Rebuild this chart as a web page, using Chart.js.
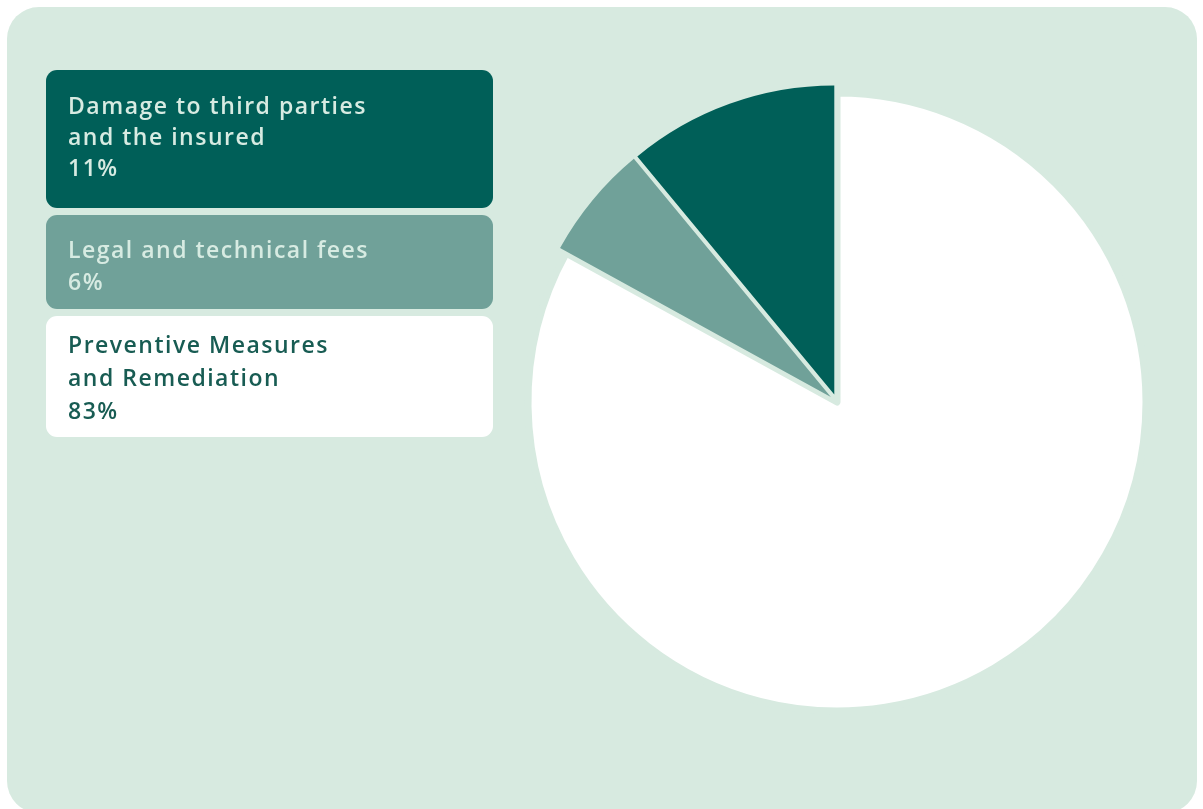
<!DOCTYPE html>
<html>
<head>
<meta charset="utf-8">
<script src="https://cdn.jsdelivr.net/npm/chart.js@4"></script>
<style>
  html, body { margin: 0; padding: 0; background: #ffffff; }
  body { width: 1203px; height: 809px; position: relative; overflow: hidden; font-family: "Open Sans", sans-serif; }
  .panel {
    position: absolute; left: 7px; top: 7px; width: 1190px; height: 806px;
    background: #d7eae0; border-radius: 32px;
  }
  .pie-wrap { position: absolute; left: 487px; top: 52px; width: 700px; height: 700px; }
  .legend { position: absolute; left: 46px; top: 70px; width: 447px; z-index: 2; }
  .item {
    box-sizing: border-box; border-radius: 11px; padding: 0 22px;
    font-size: 23px; font-weight: 600; letter-spacing: 1.5px; margin-bottom: 7px;
  }
</style>
</head>
<body>
<div class="panel"></div>
<div class="legend" id="legend"></div>
<div class="pie-wrap"><canvas id="pie"></canvas></div>

<script>
// slices, clockwise from twelve o'clock
const labels = ['Preventive Measures\nand Remediation', 'Legal and technical fees', 'Damage to third parties\nand the insured'];
const shares = [83, 6, 11];
const fills = ['#ffffff', '#70a199', '#005f58'];
const textColors = ['#185c53', '#d7ebe2', '#d7ebe2'];

// legend boxes are listed in the reverse order
const legendOrder = [2, 1, 0];
const boxHeights = [138, 94, 121];
const boxPadTop = [20, 18, 12];
const boxLineHeight = [31, 32, 33];
const panelColor = '#d7eae0';
// small pieces are pulled out from the centre
const sliceShift = [0, 8, 8];

(function() {
    'use strict';

    const legend = document.getElementById('legend');
    legend.innerHTML = legendOrder.map((i, k) => {
        const lines = labels[i].split('\n').concat(shares[i] + '%');
        const style = `background:${fills[i]};color:${textColors[i]};height:${boxHeights[k]}px;` +
            `padding-top:${boxPadTop[k]}px;line-height:${boxLineHeight[k]}px`;
        return `<div class="item" style="${style}">${lines.join('<br>')}</div>`;
    }).join('');

    const shiftSlices = {
        id: 'shiftSlices',
        afterDatasetUpdate(chart, args) {
            chart.getDatasetMeta(args.index).data.forEach((arc, i) => {
                const d = sliceShift[i] || 0;
                const mid = (arc.startAngle + arc.endAngle) / 2;
                arc.x += Math.cos(mid) * d;
                arc.y += Math.sin(mid) * d;
            });
        }
    };

    new Chart(document.getElementById('pie'), {
        type: 'pie',
        data: {
            labels: labels,
            datasets: [{
                data: shares,
                backgroundColor: fills,
                borderColor: panelColor,
                borderWidth: [7, 0, 0],
                borderJoinStyle: 'round',
                radius: 309
            }]
        },
        options: {
            responsive: true,
            maintainAspectRatio: false,
            animation: false,
            events: [],
            layout: { padding: 0 },
            plugins: { legend: { display: false }, tooltip: { enabled: false } }
        },
        plugins: [shiftSlices]
    });
})();
</script>
</body>
</html>
